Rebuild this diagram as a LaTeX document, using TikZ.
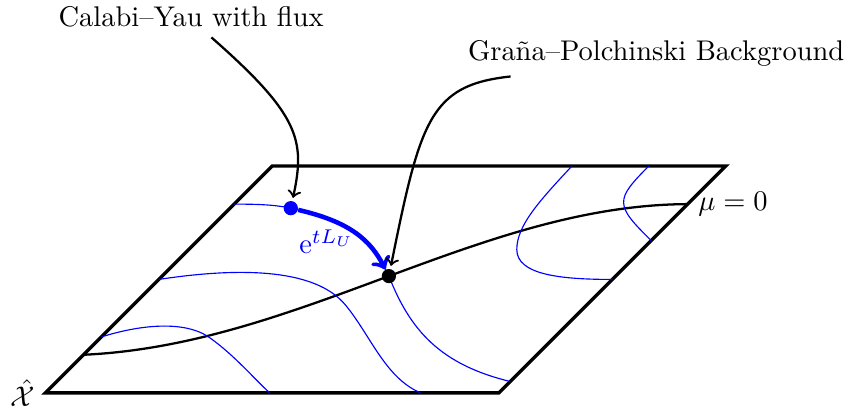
\documentclass[tikz,border=0pt]{standalone}
\tikzset{flowln/.style={blue},
  flowarr/.style={blue,ultra thick,->},
  pointer/.style={thick,->,shorten >=1pt},
  ptdot/.style={circle,fill,inner sep=0pt,minimum size=5pt}}

\begin{document}
\begin{tikzpicture}
  \useasboundingbox (0,0) rectangle (10.58,5.06);
  % moduli space
  \draw[very thick] (0.56,0.21) -- (6.16,0.21) -- (8.96,3.01) -- (3.36,3.01) -- cycle;
  \node[left] (xh) at (0.56,0.21) {$\hat{\mathcal{X}}$};
  % the locus mu = 0
  \draw[thick] (1.03,0.68) .. controls (3.70,0.80) and (5.93,2.53) .. (8.49,2.54)
    coordinate[pos=0.5] (gp) node[right] (mu) {$\mu=0$};
  % flow lines
  \coordinate (cyp) at (3.59,2.49);
  \draw[flowln] (2.89,2.54) .. controls (3.21,2.54) and (3.40,2.53) .. (cyp)
    .. controls (4.32,2.32) and (4.57,2.10) .. (gp)
    .. controls (5.06,0.99) and (5.43,0.56) .. (6.30,0.35);
  \draw[flowln] (1.96,1.61) .. controls (3.21,1.80) and (3.95,1.67) .. (4.26,1.30)
    .. controls (4.57,0.93) and (4.75,0.40) .. (5.19,0.21);
  \draw[flowln] (1.25,0.90) .. controls (1.73,1.05) and (2.28,1.11) .. (2.59,0.89)
    .. controls (2.90,0.67) and (3.15,0.37) .. (3.33,0.21);
  \draw[flowln] (7.06,3.01) .. controls (6.67,2.59) and (6.38,2.28) .. (6.38,1.98)
    .. controls (6.38,1.67) and (6.91,1.61) .. (7.56,1.61);
  \draw[flowln] (8.01,3.01) .. controls (7.59,2.59) and (7.59,2.53) .. (8.04,2.09);
  % the two backgrounds
  \node[ptdot,blue] (cyd) at (cyp) {};
  \node[ptdot] (gpd) at (gp) {};
  \draw[flowarr] (cyd) .. controls (4.32,2.32) and (4.57,2.10) .. (gpd)
    node[pos=0.64,left] {$\mathrm{e}^{tL_U}$};
  % labels
  \node (cy) at (2.36,4.85) {Calabi--Yau with flux};
  \node (gpl) at (8.10,4.40) {Graña--Polchinski Background};
  \draw[pointer] ([xshift=0.25cm]cy.south) .. controls (3.70,3.64) and (3.77,3.33) .. (cyd);
  \draw[pointer] ([xshift=0.65cm]gpl.south west) .. controls (5.31,4.01) and (5.19,3.58) .. (gpd);
\end{tikzpicture}
\end{document}
